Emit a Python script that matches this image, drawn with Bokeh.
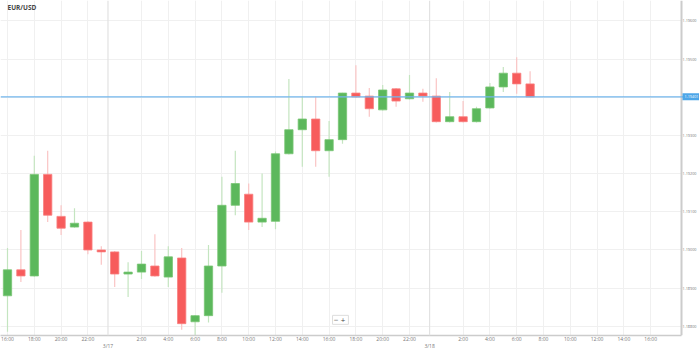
from bokeh.plotting import figure
from bokeh.models import (FixedTicker, LinearAxis, Span, Label, ColumnDataSource, Range1d, BoxAnnotation)
from bokeh.embed import file_html
from bokeh.resources import INLINE

# hours since 3/16 00:00, one hourly candle each
hours = list(range(16, 56))
opens = [1.18880, 1.18948, 1.18932, 1.19198, 1.19088, 1.19060, 1.19073, 1.19000, 1.18995, 1.18937,
         1.18942, 1.18958, 1.18929, 1.18979, 1.18812, 1.18828, 1.18958, 1.19117, 1.19146, 1.19073,
         1.19075, 1.19252, 1.19315, 1.19343, 1.19260, 1.19289, 1.19411, 1.19403, 1.19367, 1.19422,
         1.19396, 1.19411, 1.19403, 1.19336, 1.19349, 1.19336, 1.19372, 1.19427, 1.19463, 1.19435]
highs = [1.19005, 1.19052, 1.19247, 1.19260, 1.19117, 1.19109, 1.19075, 1.19010, 1.18997, 1.18968,
         1.18997, 1.19041, 1.19010, 1.19005, 1.18830, 1.19013, 1.19192, 1.19260, 1.19174, 1.19200,
         1.19258, 1.19448, 1.19401, 1.19401, 1.19338, 1.19412, 1.19484, 1.19424, 1.19432, 1.19424,
         1.19458, 1.19422, 1.19450, 1.19414, 1.19390, 1.19375, 1.19437, 1.19479, 1.19505, 1.19468]
lows = [1.18786, 1.18916, 1.18930, 1.19073, 1.19039, 1.19058, 1.18989, 1.18961, 1.18903, 1.18877,
        1.18924, 1.18930, 1.18903, 1.18791, 1.18776, 1.18810, 1.18888, 1.19091, 1.19052, 1.19060,
        1.19054, 1.19250, 1.19218, 1.19218, 1.19192, 1.19278, 1.19398, 1.19349, 1.19365, 1.19375,
        1.19394, 1.19388, 1.19334, 1.19334, 1.19334, 1.19334, 1.19370, 1.19414, 1.19409, 1.19400]
closes = [1.18948, 1.18932, 1.19198, 1.19091, 1.19057, 1.19070, 1.19000, 1.18995, 1.18937, 1.18942,
          1.18963, 1.18932, 1.18982, 1.18807, 1.18828, 1.18958, 1.19117, 1.19174, 1.19073, 1.19083,
          1.19252, 1.19315, 1.19343, 1.19260, 1.19289, 1.19411, 1.19401, 1.19370, 1.19419, 1.19390,
          1.19411, 1.19403, 1.19336, 1.19349, 1.19336, 1.19370, 1.19427, 1.19463, 1.19435, 1.19401]

current_price = 1.19401
current_label = "1.19401"
price_ticks = [1.188, 1.189, 1.190, 1.191, 1.192, 1.193, 1.194, 1.195, 1.196]
time_ticks = [16, 18, 20, 22, 26, 28, 30, 32, 34, 36, 38, 40, 42, 44, 46, 50, 52, 54, 56, 58, 60, 62, 64]
time_labels = ["16:00", "18:00", "20:00", "22:00", "2:00", "4:00", "6:00", "8:00", "10:00", "12:00",
               "14:00", "16:00", "18:00", "20:00", "22:00", "2:00", "4:00", "6:00", "8:00", "10:00",
               "12:00", "14:00", "16:00"]
date_ticks = [23.5, 47.5]
date_labels = ["3/17", "3/18"]
title_text = "EUR/USD"

GREEN = "#5cb85c"
RED = "#f75c5c"
GREEN_W = "#c4e5c0"
RED_W = "#fac4c4"

X_START, X_END = 15.478, 67.642   # full canvas width
X_AXIS = 66.299                    # where the price scale sits
Y_LOW, Y_HIGH = 1.18776, 1.196534

up = [c >= o for o, c in zip(opens, closes)]
src = ColumnDataSource(dict(
    x=hours, o=opens, h=highs, l=lows, c=closes,
    top=[max(o, c) for o, c in zip(opens, closes)],
    bot=[min(o, c) for o, c in zip(opens, closes)],
    fill=[GREEN if u else RED for u in up],
    edge=["#79c574" if u else "#f98080" for u in up],
    wick=[GREEN_W if u else RED_W for u in up],
))

p = figure(width=699, height=351, output_backend="svg", toolbar_location=None,
           x_range=Range1d(X_START, X_END), y_range=Range1d(Y_LOW, Y_HIGH),
           x_axis_location=None, y_axis_location=None,
           min_border_left=0, min_border_right=0, min_border_top=0, min_border_bottom=14)
p.outline_line_color = None
p.background_fill_color = "white"
p.border_fill_color = "white"

# grids
p.xgrid.ticker = FixedTicker(ticks=time_ticks)
p.ygrid.ticker = FixedTicker(ticks=price_ticks)
p.xgrid.grid_line_color = "#f0f0f0"
p.ygrid.grid_line_color = "#f0f0f0"

# blank price-scale strip
p.add_layout(BoxAnnotation(left=X_AXIS, fill_color="white", fill_alpha=1.0,
                           line_color=None, level="underlay"))

for d in date_ticks:
    p.add_layout(Span(location=d, dimension="height", line_color="#e2e2e2", line_width=1.2))

# candles
p.segment(x0="x", x1="x", y0="l", y1="h", source=src, line_color="wick", line_width=1.2)
p.vbar(x="x", width=0.62, top="top", bottom="bot", source=src,
       fill_color="fill", line_color="edge", line_width=0.8)

# current price line
p.add_layout(Span(location=current_price, dimension="width", line_color="#72b6ec", line_width=1.2))

def style(ax, size):
    ax.major_tick_line_color = None
    ax.minor_tick_line_color = None
    ax.major_tick_out = 0
    ax.major_tick_in = 0
    ax.minor_tick_out = 0
    ax.minor_tick_in = 0
    ax.major_label_text_font = "Open Sans"
    ax.major_label_text_font_size = size
    ax.major_label_text_color = "#777777"

# axes
xa = LinearAxis(ticker=FixedTicker(ticks=time_ticks),
                major_label_overrides={t: s for t, s in zip(time_ticks, time_labels)})
style(xa, "5px")
xa.axis_line_color = "#cccccc"
xa.axis_line_width = 1.5
xa.major_label_standoff = 0
xa.bounds = (X_START, X_AXIS)
p.add_layout(xa, "below")

da = LinearAxis(ticker=FixedTicker(ticks=date_ticks),
                major_label_overrides={t: s for t, s in zip(date_ticks, date_labels)})
style(da, "5px")
da.axis_line_color = None
da.major_label_standoff = -2
p.add_layout(da, "below")

ya = LinearAxis(ticker=FixedTicker(ticks=price_ticks),
                major_label_overrides={t: f"{t:.5f}" for t in price_ticks})
style(ya, "3.8px")
ya.axis_line_color = "#cccccc"
ya.axis_line_width = 2
ya.major_label_standoff = 1
ya.fixed_location = X_AXIS
p.add_layout(ya, "right")

# title
p.add_layout(Label(x=16.0, y=1.19635, text=title_text,
                   text_font="Open Sans", text_font_style="bold", text_font_size="6.5px",
                   text_color="#444444", text_baseline="middle", text_align="left"))

# current price tag
p.add_layout(Label(x=X_AXIS, y=current_price, text=current_label,
                   text_font="Open Sans", text_font_size="3.8px", text_color="white",
                   text_baseline="middle", text_align="left", x_offset=1,
                   background_fill_color="#4da6e8", padding=2))

# zoom buttons
p.add_layout(Label(x=40.85, y=1.18817, text="−  +",
                   text_font="DejaVu Sans", text_font_size="6px", text_color="#444444",
                   text_baseline="middle", text_align="center", background_fill_color="white",
                   border_line_color="#dddddd", padding=1))

open("out.html", "w").write(file_html(p, INLINE))
